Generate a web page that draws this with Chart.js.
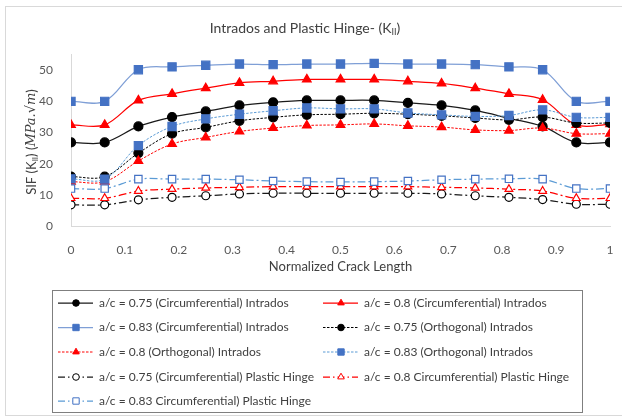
<!DOCTYPE html>
<html>
<head>
<meta charset="utf-8">
<script src="https://cdn.jsdelivr.net/npm/chart.js@4/dist/chart.umd.min.js"></script>
<style>
  body { margin: 0; background: #fff; }
  canvas { display: block; }
</style>
</head>
<body>
<canvas id="sifChart" width="622" height="418"></canvas>
<script>
// crack positions (normalized) and SIF values
const crackPos = [0, 0.0625, 0.125, 0.1875, 0.25, 0.3125, 0.375, 0.4375, 0.5, 0.5625, 0.625, 0.6875, 0.75, 0.8125, 0.875, 0.9375, 1];

const circ075 = [26.8, 26.8, 31.9, 34.9, 36.7, 38.6, 39.6, 40.2, 40.2, 40.2, 39.4, 38.6, 37.0, 34.5, 31.9, 26.8, 26.8];
const circ080 = [32.4, 32.4, 40.2, 42.3, 44.1, 45.8, 46.3, 46.9, 46.9, 46.9, 46.3, 45.6, 44.1, 42.3, 40.4, 32.4, 32.6];
const circ083 = [39.9, 39.9, 50.0, 50.9, 51.4, 51.8, 51.6, 51.8, 51.8, 52.0, 51.8, 51.8, 51.6, 50.9, 50.0, 39.9, 39.9];
const orth075 = [15.9, 15.9, 23.4, 29.6, 31.6, 33.7, 34.8, 35.6, 35.8, 36.1, 35.8, 35.3, 34.6, 34.0, 34.9, 33.0, 33.0];
const orth080 = [14.3, 14.3, 20.9, 26.3, 28.4, 30.3, 31.4, 32.2, 32.4, 32.7, 32.1, 31.7, 30.8, 30.6, 31.4, 29.6, 29.6];
const orth083 = [15.2, 15.1, 25.8, 31.9, 34.3, 35.8, 36.9, 37.8, 37.5, 37.5, 36.2, 35.6, 35.1, 35.4, 37.2, 34.8, 34.8];
const hinge075 = [6.9, 6.9, 8.5, 9.3, 9.8, 10.4, 10.6, 10.6, 10.6, 10.6, 10.6, 10.4, 9.8, 9.3, 8.6, 7.1, 7.1];
const hinge080 = [9.0, 9.0, 11.3, 11.9, 12.3, 12.5, 12.7, 12.7, 12.7, 12.7, 12.7, 12.5, 12.3, 11.9, 11.3, 9.0, 9.0];
const hinge083 = [12.1, 12.1, 15.1, 15.1, 15.1, 14.9, 14.5, 14.3, 14.2, 14.3, 14.5, 14.9, 15.1, 15.2, 15.1, 12.1, 12.1];

const yTicks = [0, 10, 20, 30, 40, 50];

const FONT = 'Lato, "Open Sans", sans-serif';

function pts(vals) {
    return vals.map((v, i) => ({ x: crackPos[i], y: v }));
}

function series(label, vals, o) {
    return {
        label: label,
        data: pts(vals),
        borderColor: o.line,
        borderWidth: o.width || 1.25,
        borderDash: o.dash || [],
        backgroundColor: o.fill,
        pointBackgroundColor: o.fill,
        pointBorderColor: o.edge,
        pointBorderWidth: 1.2,
        pointStyle: o.shape,
        pointRadius: o.r || 4.5,
        tension: 0.35,
        fill: false
    };
}

const datasets = [
    series('a/c = 0.75 (Circumferential) Intrados', circ075, { line: '#1a1a1a', fill: '#000', edge: '#000', shape: 'circle' }),
    series('a/c = 0.8 (Circumferential) Intrados', circ080, { line: '#ff0000', fill: '#ff0000', edge: '#ff0000', shape: 'triangle', r: 5 }),
    series('a/c = 0.83 (Circumferential) Intrados', circ083, { line: '#7f9fd6', fill: '#4472c4', edge: '#4472c4', shape: 'rect', r: 5.8 }),
    series('a/c = 0.75 (Orthogonal) Intrados', orth075, { line: '#000', fill: '#000', edge: '#000', shape: 'circle', dash: [2.5, 1.5], width: 1 }),
    series('a/c = 0.8 (Orthogonal) Intrados', orth080, { line: '#ff0000', fill: '#ff0000', edge: '#ff0000', shape: 'triangle', r: 5, dash: [2.5, 1.5], width: 1 }),
    series('a/c = 0.83 (Orthogonal) Intrados', orth083, { line: '#5b9bd5', fill: '#4472c4', edge: '#4472c4', shape: 'rect', r: 5.8, dash: [2.5, 1.5], width: 1 }),
    series('a/c = 0.75 (Circumferential) Plastic Hinge', hinge075, { line: '#1a1a1a', fill: '#fff', edge: '#000', shape: 'circle', r: 4, dash: [8, 3, 2, 3] }),
    series('a/c = 0.8 Circumferential) Plastic Hinge', hinge080, { line: '#ff0000', fill: '#fff', edge: '#ff0000', shape: 'triangle', r: 4.5, dash: [8, 3, 2, 3] }),
    series('a/c = 0.83 Circumferential) Plastic Hinge', hinge083, { line: '#5b9bd5', fill: '#fff', edge: '#4472c4', shape: 'rect', r: 5.2, dash: [8, 3, 2, 3] })
];
// later series drawn on top, like the original spreadsheet chart
datasets.forEach((d, i) => { d.order = datasets.length - i; });

// draws a run of text pieces; a piece may be a subscript or italic
function drawPieces(ctx, pieces, x, y, align) {
    let total = 0;
    pieces.forEach(p => { ctx.font = p.font; total += ctx.measureText(p.text).width; });
    let cx = align === 'center' ? x - total / 2 : x;
    pieces.forEach(p => {
        ctx.font = p.font;
        ctx.fillText(p.text, cx, y + (p.dy || 0));
        cx += ctx.measureText(p.text).width;
    });
}

function drawMarker(ctx, d, x, y) {
    const sizes = { circle: 3.3, triangle: 3.8, rect: 4.5 };
    ctx.save();
    ctx.setLineDash([]);
    ctx.fillStyle = d.pointBackgroundColor;
    ctx.strokeStyle = d.pointBorderColor;
    ctx.lineWidth = 1;
    Chart.helpers.drawPoint(ctx, {
        pointStyle: d.pointStyle,
        radius: sizes[d.pointStyle],
        borderWidth: 1
    }, x, y);
    ctx.restore();
}

const decorations = {
    id: 'decorations',
    afterDraw(chart) {
        const ctx = chart.ctx;
        ctx.save();

        // outer frame
        ctx.strokeStyle = '#d9d9d9';
        ctx.lineWidth = 1;
        ctx.strokeRect(5.5, 6.5, 640, 409);

        // title
        ctx.fillStyle = '#404040';
        ctx.textBaseline = 'middle';
        drawPieces(ctx, [
            { text: 'Intrados and Plastic Hinge- (K', font: '14px ' + FONT },
            { text: 'II', font: '9px ' + FONT, dy: 4 },
            { text: ')', font: '14px ' + FONT }
        ], 305, 28, 'center');

        // y axis title
        ctx.save();
        ctx.translate(32, 142);
        ctx.rotate(-Math.PI / 2);
        ctx.fillStyle = '#404040';
        drawPieces(ctx, [
            { text: 'SIF (K', font: '13px ' + FONT },
            { text: 'II', font: '8px ' + FONT, dy: 3 },
            { text: ') (', font: '13px ' + FONT },
            { text: 'MPa.√m', font: 'italic 13px "DejaVu Serif", serif' },
            { text: ')', font: '13px ' + FONT }
        ], 0, 0, 'center');
        ctx.restore();

        // legend box
        const box = { left: 52.5, top: 290.5, right: 582.5, bottom: 412.5 };
        ctx.strokeStyle = '#7f7f7f';
        ctx.strokeRect(box.left, box.top, box.right - box.left, box.bottom - box.top);

        const cols = [58, 323];
        const rowY = [303, 327.5, 352, 377, 401];
        chart.data.datasets.forEach((d, i) => {
            const x0 = cols[i % 2];
            const y = rowY[Math.floor(i / 2)];
            ctx.save();
            ctx.strokeStyle = d.borderColor;
            ctx.lineWidth = d.borderWidth;
            ctx.setLineDash(d.borderDash.length === 4 ? [7, 3, 1.5, 3] : d.borderDash);
            ctx.beginPath();
            ctx.moveTo(x0, y);
            ctx.lineTo(x0 + 35, y);
            ctx.stroke();
            ctx.restore();
            drawMarker(ctx, d, x0 + 18, y);
            ctx.fillStyle = '#404040';
            ctx.font = '12px ' + FONT;
            ctx.textAlign = 'left';
            ctx.textBaseline = 'middle';
            ctx.fillText(d.label, x0 + 41, y);
        });

        ctx.restore();
    }
};

const ctx = document.getElementById('sifChart').getContext('2d');
const sifChart = new Chart(ctx, {
    type: 'line',
    data: { datasets: datasets },
    options: {
        responsive: false,
        animation: false,
        layout: {
            padding: { top: 54, left: 0, right: 12, bottom: 141.5 }
        },
        plugins: {
            legend: { display: false },
            title: { display: false },
            tooltip: { enabled: false }
        },
        scales: {
            x: {
                type: 'linear',
                min: 0,
                max: 1,
                grid: { display: false },
                border: { display: true, color: '#d9d9d9', width: 1 },
                ticks: {
                    stepSize: 0.1,
                    color: '#595959',
                    font: { family: FONT, size: 12 },
                    padding: 8,
                    callback: v => String(Math.round(v * 10) / 10)
                },
                title: {
                    display: true,
                    text: 'Normalized Crack Length',
                    color: '#404040',
                    font: { family: FONT, size: 13 },
                    padding: { top: 4, bottom: 2 }
                },
                afterFit: scale => { scale.height = 50; }
            },
            y: {
                min: 0,
                max: 55,
                grid: { display: false },
                border: { display: true, color: '#d9d9d9', width: 1 },
                ticks: {
                    color: '#595959',
                    font: { family: FONT, size: 12 },
                    padding: 10
                },
                afterBuildTicks: scale => {
                    scale.ticks = yTicks.map(v => ({ value: v }));
                },
                afterFit: scale => { scale.width = 71; }
            }
        }
    },
    plugins: [decorations]
});
</script>
</body>
</html>
